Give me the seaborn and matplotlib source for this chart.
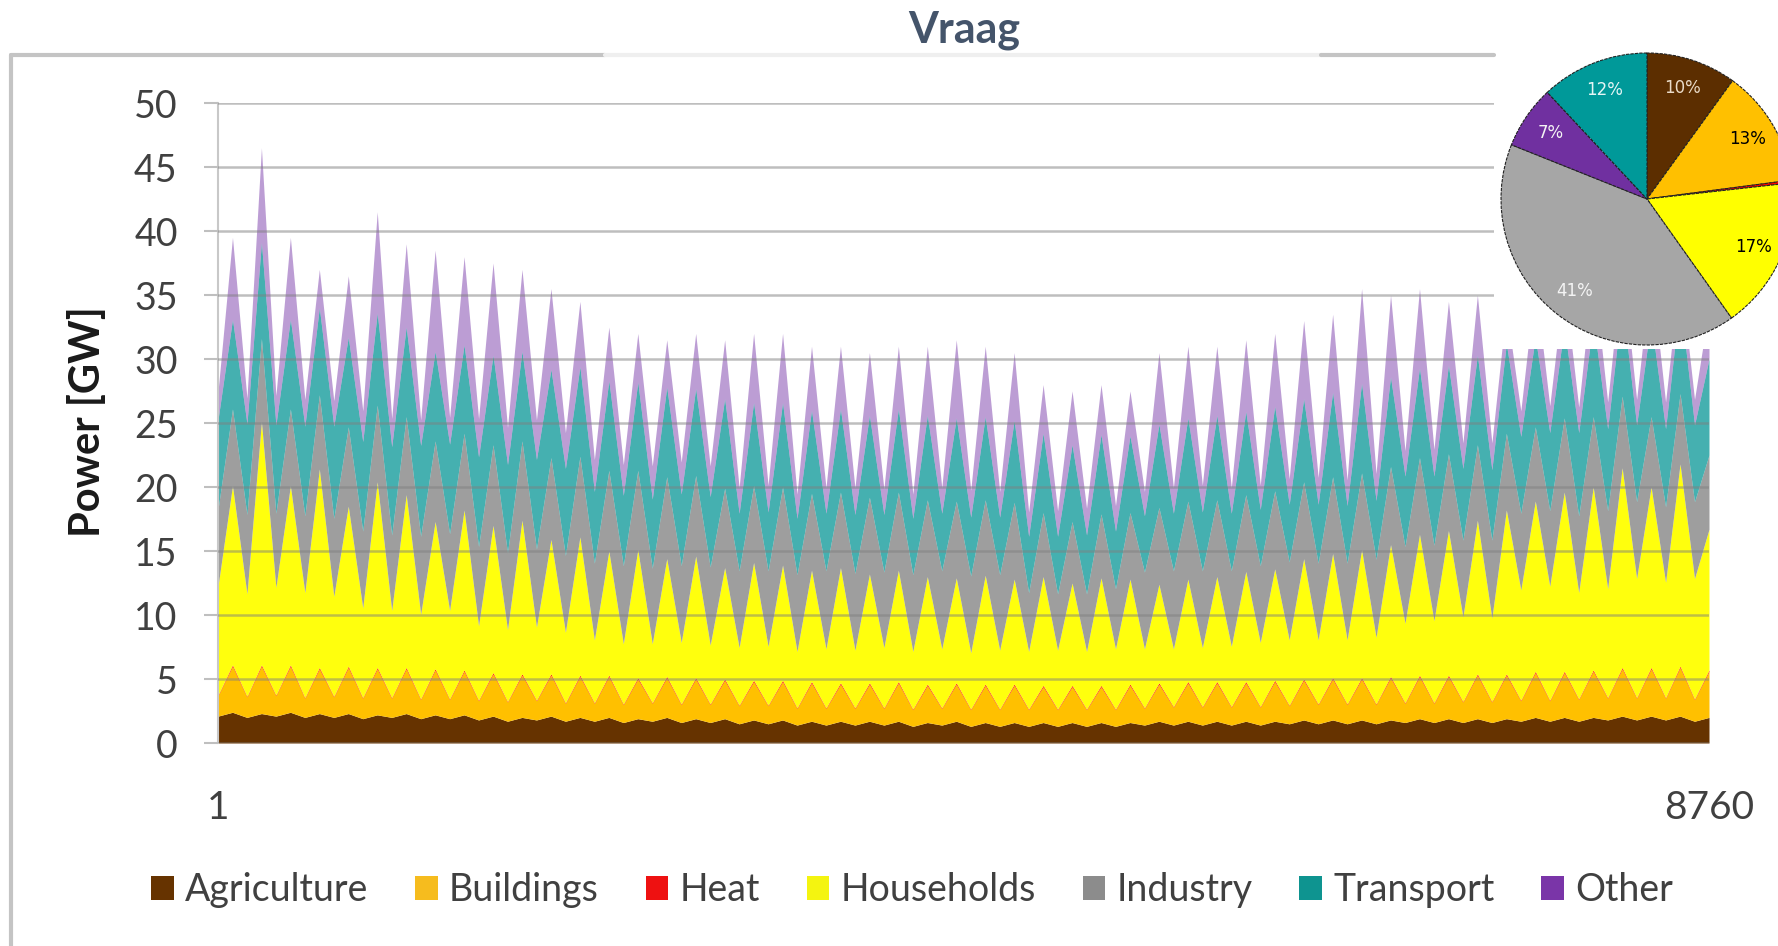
import numpy as np
import matplotlib
matplotlib.use("Agg")
import matplotlib.pyplot as plt
import seaborn as sns
from matplotlib.patches import Patch, Rectangle
from matplotlib.lines import Line2D

# hourly demand, read per week: one low (weekend/night) and one high (weekday) value
categories = ['Agriculture', 'Buildings', 'Heat', 'Households', 'Industry', 'Transport', 'Other']

agri_trough = [2.1, 2.0, 2.1, 2.0, 2.0, 1.9, 2.0, 1.9, 1.9, 1.8, 1.7, 1.8, 1.7,
               1.7, 1.6, 1.7, 1.6, 1.6, 1.5, 1.5, 1.4, 1.4, 1.4, 1.4, 1.3, 1.4,
               1.3, 1.3, 1.3, 1.3, 1.3, 1.3, 1.4, 1.4, 1.4, 1.4, 1.4, 1.5, 1.5,
               1.5, 1.5, 1.6, 1.6, 1.6, 1.6, 1.7, 1.7, 1.7, 1.8, 1.8, 1.8, 1.7]
agri_peak = [2.4, 2.3, 2.4, 2.3, 2.3, 2.2, 2.3, 2.2, 2.2, 2.1, 2.0, 2.1, 2.0,
             2.0, 1.9, 2.0, 1.9, 1.9, 1.8, 1.8, 1.7, 1.7, 1.7, 1.7, 1.6, 1.7,
             1.6, 1.6, 1.6, 1.6, 1.6, 1.6, 1.7, 1.7, 1.7, 1.7, 1.7, 1.8, 1.8,
             1.8, 1.8, 1.9, 1.9, 1.9, 1.9, 2.0, 2.0, 2.0, 2.1, 2.1, 2.1, 2.0]

build_trough = [1.6, 1.6, 1.6, 1.5, 1.6, 1.6, 1.5, 1.5, 1.5, 1.5, 1.5, 1.5, 1.4,
                1.4, 1.4, 1.4, 1.4, 1.4, 1.4, 1.4, 1.3, 1.3, 1.3, 1.3, 1.3, 1.3,
                1.3, 1.3, 1.3, 1.3, 1.3, 1.3, 1.3, 1.4, 1.4, 1.4, 1.4, 1.4, 1.5,
                1.5, 1.5, 1.5, 1.5, 1.6, 1.6, 1.6, 1.6, 1.7, 1.7, 1.7, 1.7, 1.7]
build_peak = [3.6, 3.7, 3.6, 3.5, 3.6, 3.6, 3.5, 3.5, 3.4, 3.3, 3.3, 3.2, 3.2,
              3.2, 3.1, 3.1, 3.1, 3.0, 3.0, 3.0, 3.0, 2.9, 2.9, 3.0, 2.9, 2.9,
              2.9, 2.9, 2.8, 2.8, 2.8, 2.9, 2.9, 3.0, 3.0, 3.0, 3.1, 3.1, 3.2,
              3.2, 3.3, 3.3, 3.3, 3.4, 3.4, 3.5, 3.5, 3.6, 3.7, 3.7, 3.8, 3.6]

heat_trough = [0.05, 0.05, 0.05, 0.05, 0.05, 0.05, 0.05, 0.05, 0.05, 0.05, 0.05, 0.05, 0.05,
               0.05, 0.05, 0.05, 0.05, 0.05, 0.05, 0.05, 0.05, 0.05, 0.05, 0.05, 0.05, 0.05,
               0.05, 0.05, 0.05, 0.05, 0.05, 0.05, 0.05, 0.05, 0.05, 0.05, 0.05, 0.05, 0.05,
               0.05, 0.05, 0.05, 0.05, 0.05, 0.05, 0.05, 0.05, 0.05, 0.05, 0.05, 0.05, 0.05]
heat_peak = [0.1, 0.1, 0.1, 0.1, 0.1, 0.1, 0.1, 0.1, 0.1, 0.1, 0.1, 0.1, 0.1,
             0.1, 0.1, 0.1, 0.1, 0.1, 0.1, 0.1, 0.1, 0.1, 0.1, 0.1, 0.1, 0.1,
             0.1, 0.1, 0.1, 0.1, 0.1, 0.1, 0.1, 0.1, 0.1, 0.1, 0.1, 0.1, 0.1,
             0.1, 0.1, 0.1, 0.1, 0.1, 0.1, 0.1, 0.1, 0.1, 0.1, 0.1, 0.1, 0.1]

house_trough = [8.5, 8.0, 8.4, 8.2, 7.8, 7.0, 6.8, 6.6, 6.9, 5.8, 5.6, 5.7, 5.5,
                4.9, 4.7, 4.6, 4.8, 4.6, 4.5, 4.6, 4.4, 4.6, 4.5, 4.7, 4.5, 4.6,
                4.4, 4.6, 4.5, 4.6, 4.5, 4.7, 4.6, 4.5, 4.6, 4.7, 5.0, 5.1, 5.0,
                5.0, 5.2, 6.2, 6.4, 6.6, 6.5, 8.6, 8.9, 8.3, 8.5, 9.3, 9.0, 9.4]
house_peak = [14.0, 19.0, 14.0, 15.5, 12.5, 14.5, 13.5, 11.5, 12.5, 11.5, 12.0, 10.5, 10.8,
              9.7, 10.0, 9.2, 9.5, 8.7, 9.2, 9.0, 8.7, 9.0, 8.5, 8.7, 8.4, 8.2,
              8.5, 8.2, 8.5, 8.0, 8.4, 8.2, 7.7, 8.0, 8.2, 8.6, 8.7, 9.4, 9.7,
              10.0, 10.3, 11.0, 11.3, 12.0, 12.8, 13.3, 14.0, 14.3, 15.6, 14.1, 15.8, 11.0]

ind_trough = [6.0, 6.2, 5.8, 6.0, 6.1, 6.0, 5.9, 6.1, 6.0, 6.2, 6.0, 6.1, 6.0,
              6.0, 6.1, 5.9, 6.0, 6.1, 6.0, 5.9, 6.0, 6.1, 6.0, 5.9, 6.0, 6.1,
              6.0, 5.9, 4.6, 4.4, 4.5, 4.7, 6.0, 6.1, 6.0, 5.9, 6.0, 6.1, 6.0,
              6.0, 6.1, 6.0, 5.9, 6.0, 6.1, 6.0, 5.9, 6.0, 6.1, 6.0, 5.9, 6.0]
ind_peak = [6.0, 6.5, 6.0, 5.8, 6.2, 6.0, 6.1, 6.3, 6.0, 6.3, 6.2, 6.4, 6.3,
            6.3, 6.2, 6.4, 6.3, 6.2, 6.0, 6.1, 6.0, 5.9, 6.0, 6.1, 6.0, 6.0,
            5.9, 6.0, 5.0, 4.8, 5.0, 5.2, 6.0, 6.1, 6.0, 6.0, 6.1, 6.0, 6.0,
            6.0, 6.1, 6.0, 6.0, 5.9, 6.0, 5.8, 5.8, 5.5, 5.6, 5.5, 5.5, 5.8]

trans_trough = [7.0, 7.1, 6.9, 7.0, 7.2, 7.0, 6.9, 7.1, 7.0, 7.0, 6.9, 7.0, 6.8,
                5.6, 5.5, 5.4, 5.6, 5.5, 4.5, 4.6, 4.4, 4.5, 4.6, 4.5, 4.4, 4.5,
                4.6, 4.5, 4.4, 4.5, 4.6, 4.5, 4.4, 4.5, 4.6, 4.5, 4.4, 4.5, 4.6,
                4.5, 4.6, 5.5, 5.4, 5.6, 5.5, 6.0, 6.1, 6.5, 6.4, 6.0, 6.1, 6.0]
trans_peak = [7.0, 7.5, 7.0, 6.8, 7.0, 7.2, 7.0, 7.0, 6.9, 7.0, 7.0, 6.9, 7.0,
              7.0, 6.9, 7.0, 6.8, 7.0, 6.5, 6.6, 6.5, 6.5, 6.4, 6.5, 6.6, 6.5,
              6.5, 6.4, 6.2, 6.0, 6.2, 6.0, 6.5, 6.5, 6.6, 6.5, 6.6, 6.5, 6.6,
              7.0, 7.0, 7.0, 6.9, 7.0, 7.0, 7.0, 7.1, 7.5, 7.4, 7.5, 7.4, 7.5]

other_trough = [2.2, 2.0, 2.3, 2.1, 2.0, 2.4, 2.2, 2.0, 2.1, 3.0, 2.9, 3.1, 2.8,
                2.5, 2.4, 2.6, 2.5, 2.4, 2.0, 2.1, 1.9, 2.0, 2.1, 2.0, 1.9, 2.0,
                2.1, 2.0, 1.9, 2.0, 2.1, 2.0, 1.9, 2.0, 2.1, 2.0, 1.9, 2.0, 2.1,
                2.0, 2.1, 2.0, 2.1, 2.0, 2.1, 2.0, 2.1, 2.0, 2.1, 2.0, 2.1, 2.0]
other_peak = [6.4, 7.4, 6.4, 3.0, 4.8, 7.9, 6.5, 7.9, 6.9, 7.2, 6.4, 6.3, 5.1,
              4.2, 3.8, 3.7, 4.3, 4.6, 5.4, 5.4, 5.0, 4.9, 4.9, 4.9, 5.4, 6.1,
              5.5, 5.3, 3.8, 4.2, 3.9, 3.5, 5.6, 5.6, 5.4, 5.6, 5.7, 6.1, 6.1,
              7.4, 6.4, 6.2, 5.0, 4.7, 2.8, 4.3, 3.5, 4.0, 3.0, 4.0, 2.3, 4.0]

# yearly shares (pie), same order as categories
pie_shares = [10, 13, 0.3, 17, 41, 12, 7]

area_colors = ['#663300', '#FFC000', '#FF0000', '#FFFF00', '#969696', '#169C9C', '#7A3CAA']
area_alpha = [1.0, 1.0, 1.0, 0.95, 0.92, 0.8, 0.5]
legend_colors = ['#663300', '#F6BC1E', '#EE1111', '#F4F410', '#8C8C8C', '#0E9490', '#7A35A8']
pie_colors = ['#5C2E00', '#FFC000', '#FF0000', '#FFFF00', '#A6A6A6', '#009999', '#7030A0']
pie_text = ['#EADBC8', 'black', 'black', 'black', '#F4F4F4', '#E6F6F6', '#F4F4F4']
pie_order = [0, 1, 2, 3, 4, 6, 5]  # clockwise from 12 o'clock


def interleave(low, high):
    s = np.empty(2 * len(low))
    s[0::2] = low
    s[1::2] = high
    return s


layers = [
    interleave(agri_trough, agri_peak),
    interleave(build_trough, build_peak),
    interleave(heat_trough, heat_peak),
    interleave(house_trough, house_peak),
    interleave(ind_trough, ind_peak),
    interleave(trans_trough, trans_peak),
    interleave(other_trough, other_peak),
]
hours = np.linspace(1, 8760, len(layers[0]))

sns.set_theme(style="white")
plt.rcParams['font.family'] = ['Lato', 'DejaVu Sans']

W, H = 1778, 946
fig = plt.figure(figsize=(W / 100, H / 100), dpi=100)
fig.patch.set_facecolor('white')

ax = fig.add_axes([218 / W, 1 - 743 / H, (1709 - 218) / W, (743 - 103) / H])
polys = ax.stackplot(hours, *layers, colors=area_colors, linewidth=0)
for p, a in zip(polys, area_alpha):
    p.set_alpha(a)

ax.set_xlim(1, 8760)
ax.set_ylim(0, 50)
ax.set_yticks(range(0, 51, 5))
ax.set_xticks([1, 8760])
ax.set_xticklabels(['1', '8760'])
ax.grid(axis='y', color='#7F7F7F', alpha=0.5, linewidth=1.8)
ax.grid(axis='x', visible=False)
ax.set_axisbelow(False)
for side in ['top', 'right', 'bottom']:
    ax.spines[side].set_visible(False)
ax.spines['left'].set_color('#C8C8C8')
ax.spines['left'].set_linewidth(1.5)
ax.tick_params(axis='y', direction='out', length=10, width=1.5, color='#BFBFBF',
               pad=19, labelsize=27, labelcolor='#404040', left=True)
ax.tick_params(axis='x', length=0, pad=34, labelsize=28, labelcolor='#404040')
ax.set_facecolor('white')

fig.text(88 / W, 1 - 422 / H, 'Power [GW]', rotation=90, ha='center', va='center',
         fontsize=30, fontweight='bold', color='#1A1A1A')

fig.text(964 / W, 1 - 30 / H, 'Vraag', ha='center', va='center',
         fontsize=31, fontweight='bold', color='#44546A')

# frame lines of the pasted chart
fig.add_artist(Line2D([11 / W, 605 / W], [1 - 55 / H, 1 - 55 / H], color='#C4C4C4', lw=3))
fig.add_artist(Line2D([605 / W, 1321 / W], [1 - 55 / H, 1 - 55 / H], color='#EFEFEF', lw=3))
fig.add_artist(Line2D([1321 / W, 1494 / W], [1 - 55 / H, 1 - 55 / H], color='#C4C4C4', lw=3))
fig.add_artist(Line2D([11 / W, 11 / W], [1 - 55 / H, 0], color='#C4C4C4', lw=3))

handles = [Patch(facecolor=c, edgecolor='none') for c in legend_colors]
fig.legend(handles, categories, loc='center', bbox_to_anchor=(912 / W, 1 - 890 / H),
           ncol=7, frameon=False, fontsize=27, handlelength=0.6, handleheight=0.6,
           handletextpad=0.3, columnspacing=1.25, labelcolor='#404040')

# white box behind the pie
fig.add_artist(Rectangle((1494 / W, 1 - 349 / H), 1 - 1494 / W, 349 / H,
                         transform=fig.transFigure, facecolor='white',
                         edgecolor='none', zorder=1))

r = 146
pax = fig.add_axes([(1647 - r) / W, 1 - (199 + r) / H, 2 * r / W, 2 * r / H], zorder=2)
vals = [pie_shares[i] for i in pie_order]
cols = [pie_colors[i] for i in pie_order]
wedges, texts, autotexts = pax.pie(
    vals, colors=cols, startangle=90, counterclock=False,
    autopct=lambda p: '' if p < 1 else f'{p:.0f}%', pctdistance=0.8,
    wedgeprops=dict(edgecolor='#222222', linewidth=0.8, linestyle=(0, (3, 1))),
    textprops=dict(fontsize=12, family='DejaVu Sans'))
for t, i in zip(autotexts, pie_order):
    t.set_color(pie_text[i])
pax.set_xlim(-1, 1)
pax.set_ylim(-1, 1)
pax.set_aspect('equal')
pax.axis('off')

fig.savefig('out.png', dpi=100, facecolor='white')
